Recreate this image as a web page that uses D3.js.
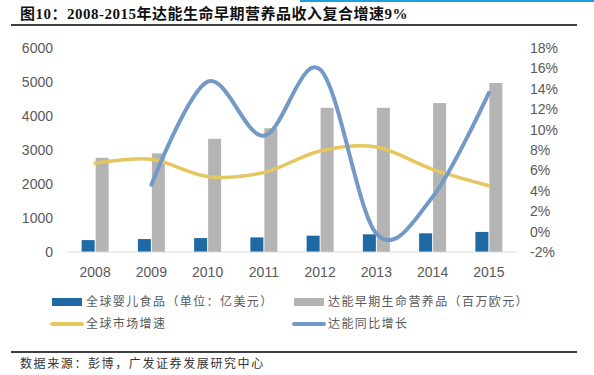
<!DOCTYPE html>
<html>
<head>
<meta charset="utf-8">
<script src="https://cdn.jsdelivr.net/npm/d3@7"></script>
<style>
  body { margin: 0; background: #fff; }
  svg { display: block; }
</style>
</head>
<body>
<svg id="chart"></svg>
<script>
// chart data
var years = ["2008", "2009", "2010", "2011", "2012", "2013", "2014", "2015"];
var babyFood = [350, 380, 410, 430, 480, 520, 550, 590];        // 全球婴儿食品（亿美元）
var danoneSales = [2770, 2900, 3330, 3640, 4240, 4240, 4380, 4970]; // 达能早期生命营养品（百万欧元）
var marketGrowth = [6.7, 7.1, 5.4, 5.8, 7.9, 8.3, 6.1, 4.5];    // 全球市场增速 %
var danoneGrowth = [null, 4.6, 14.7, 9.4, 15.9, -0.2, 3.4, 13.6]; // 达能同比增长 %
var leftTicks = [0, 1000, 2000, 3000, 4000, 5000, 6000];
var rightTicks = [-2, 0, 2, 4, 6, 8, 10, 12, 14, 16, 18];

var W = 594, H = 375;
var svg = d3.select("#chart").attr("width", W).attr("height", H);

var numFont = "'Liberation Sans', Arial, sans-serif";
var cjkFont = "'Noto Sans CJK SC', sans-serif";

// top accent + title
svg.append("rect").attr("x", 300).attr("y", 0).attr("width", W - 300).attr("height", 2).attr("fill", "#1AA0DC");
svg.append("text")
  .attr("x", 20).attr("y", 19)
  .attr("font-family", "'Liberation Serif', 'Noto Sans CJK SC', serif")
  .attr("font-weight", "bold")
  .attr("font-size", 15)
  .attr("letter-spacing", 0.5)
  .attr("fill", "#111")
  .text("图10：2008-2015年达能生命早期营养品收入复合增速9%");
svg.append("line").attr("x1", 11).attr("x2", 577).attr("y1", 25).attr("y2", 25)
  .attr("stroke", "#000").attr("stroke-width", 1.3);

// scales
var x = d3.scaleBand().domain(years).range([67, 517]);
var xc = function(d) { return x(d) + x.bandwidth() / 2; };
var xIn = d3.scaleBand().domain(["a", "b"]).range([-13.5, 13.5]).paddingInner(0.07);
var yL = d3.scaleLinear().domain([0, 6000]).range([252, 48]);
var yR = d3.scaleLinear().domain([-2, 18]).range([252, 48]);

// left axis labels
svg.append("g").selectAll("text").data(leftTicks).join("text")
  .attr("x", 53).attr("y", function(d) { return yL(d); })
  .attr("dy", "0.35em").attr("text-anchor", "end")
  .attr("font-family", numFont).attr("font-size", 14).attr("fill", "#595959")
  .text(function(d) { return d; });

// right axis labels
svg.append("g").selectAll("text").data(rightTicks).join("text")
  .attr("x", 530).attr("y", function(d) { return yR(d); })
  .attr("dy", "0.35em").attr("text-anchor", "start")
  .attr("font-family", numFont).attr("font-size", 14).attr("fill", "#595959")
  .text(function(d) { return d + "%"; });

// bars
var bars = svg.append("g");
bars.selectAll("rect.baby").data(years).join("rect")
  .attr("class", "baby")
  .attr("x", function(d) { return xc(d) + xIn("a"); })
  .attr("width", xIn.bandwidth())
  .attr("y", function(d, i) { return yL(babyFood[i]); })
  .attr("height", function(d, i) { return yL(0) - yL(babyFood[i]); })
  .attr("fill", "#1F6AA5");
bars.selectAll("rect.danone").data(years).join("rect")
  .attr("class", "danone")
  .attr("x", function(d) { return xc(d) + xIn("b"); })
  .attr("width", xIn.bandwidth())
  .attr("y", function(d, i) { return yL(danoneSales[i]); })
  .attr("height", function(d, i) { return yL(0) - yL(danoneSales[i]); })
  .attr("fill", "#B4B4B4");

// x axis line + labels
svg.append("line").attr("x1", 67).attr("x2", 517).attr("y1", yL(0)).attr("y2", yL(0))
  .attr("stroke", "#D9D9D9").attr("stroke-width", 1);
svg.append("g").selectAll("text").data(years).join("text")
  .attr("x", xc).attr("y", 272).attr("dy", "0.35em").attr("text-anchor", "middle")
  .attr("font-family", numFont).attr("font-size", 14).attr("fill", "#595959")
  .text(function(d) { return d; });

// smoothed lines (excel style)
var lineGen = d3.line()
  .defined(function(d) { return d.v !== null; })
  .x(function(d) { return xc(d.year); })
  .y(function(d) { return yR(d.v); })
  .curve(d3.curveCatmullRom.alpha(0));

var mkt = years.map(function(y, i) { return { year: y, v: marketGrowth[i] }; });
var dan = years.map(function(y, i) { return { year: y, v: danoneGrowth[i] }; });

svg.append("path").datum(mkt).attr("d", lineGen)
  .attr("fill", "none").attr("stroke", "#E5C65F").attr("stroke-width", 3.5).attr("stroke-linecap", "round");
svg.append("path").datum(dan.filter(function(d) { return d.v !== null; })).attr("d", lineGen)
  .attr("fill", "none").attr("stroke", "#7399C6").attr("stroke-width", 4).attr("stroke-linecap", "round");

// legend
var legend = [
  { label: "全球婴儿食品（单位：亿美元）", type: "bar", color: "#1F6AA5", x: 52, y: 302 },
  { label: "达能早期生命营养品（百万欧元）", type: "bar", color: "#B4B4B4", x: 294, y: 302 },
  { label: "全球市场增速", type: "line", color: "#E5C65F", x: 52, y: 324 },
  { label: "达能同比增长", type: "line", color: "#7399C6", x: 294, y: 324 }
];
var lg = svg.append("g").selectAll("g").data(legend).join("g")
  .attr("transform", function(d) { return "translate(" + d.x + "," + d.y + ")"; });
lg.filter(function(d) { return d.type === "bar"; }).append("rect")
  .attr("x", 0).attr("y", -4).attr("width", 30).attr("height", 8)
  .attr("fill", function(d) { return d.color; });
lg.filter(function(d) { return d.type === "line"; }).append("line")
  .attr("x1", 0).attr("x2", 30).attr("y1", 0).attr("y2", 0)
  .attr("stroke", function(d) { return d.color; }).attr("stroke-width", 4).attr("stroke-linecap", "round");
lg.append("text")
  .attr("x", 34).attr("dy", "0.35em")
  .attr("font-family", cjkFont).attr("font-size", 12).attr("letter-spacing", 1.4)
  .attr("fill", "#595959")
  .text(function(d) { return d.label; });

// footer
svg.append("line").attr("x1", 11).attr("x2", 577).attr("y1", 352).attr("y2", 352)
  .attr("stroke", "#000").attr("stroke-width", 1.3);
svg.append("text")
  .attr("x", 20).attr("y", 364).attr("dy", "0.35em")
  .attr("font-family", cjkFont).attr("font-size", 12).attr("letter-spacing", 1.6)
  .attr("fill", "#333")
  .text("数据来源：彭博，广发证券发展研究中心");
</script>
</body>
</html>
